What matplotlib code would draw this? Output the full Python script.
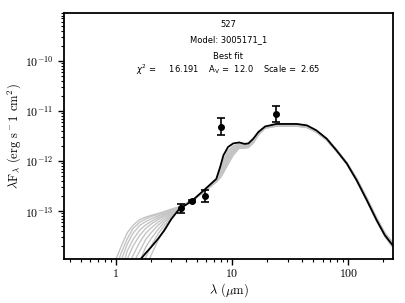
import numpy as np
import matplotlib
matplotlib.use("Agg")
import matplotlib.pyplot as plt
from matplotlib.ticker import FixedLocator, FuncFormatter, LogLocator, NullFormatter

plt.rcParams['mathtext.fontset'] = 'cm'
plt.rcParams['axes.unicode_minus'] = False

# ---- data (flux in units of 1e-13 erg s^-1 cm^-2) ----
wav = [1.0, 1.1, 1.25, 1.4, 1.6, 1.8, 2.0, 2.3, 2.6, 3.0, 3.5, 4.5, 5.8, 7.3, 7.9,
       8.4, 9.2, 10.2, 11.5, 12.8, 13.8, 15.2, 16.8, 19.2, 24, 36, 44, 53, 65, 79,
       97, 118, 144, 175, 206, 240]
nan = np.nan
best_fit = [nan, nan, nan, 0.06, 0.105, 0.145, 0.19, 0.28, 0.41, 0.70, 1.10, 1.60, 2.7, 4.4, 7.8,
            13, 19, 22.5, 23.5, 22, 22.5, 28, 38, 49, 55, 55, 51.5, 41, 28, 16.3,
            8.9, 4.1, 1.66, 0.66, 0.33, 0.21]
grey_models = [
    [0.11, 0.19, 0.37, 0.52, 0.68, 0.76, 0.82, 0.90, 0.98, 1.10, 1.22, 1.65, 2.5, 3.9, 4.6,
     5.8, 8.5, 13, 18, 18, 18.5, 23, 33, 45, 50, 50, 47, 38, 26.5, 16.0,
     8.8, 4.2, 1.70, 0.68, 0.34, 0.21],
    [0.07, 0.14, 0.28, 0.45, 0.60, 0.70, 0.78, 0.86, 0.95, 1.06, 1.20, 1.62, 2.55, 4.0, 5.2,
     7.0, 10.5, 15, 19, 19, 19.5, 24, 34, 46, 51, 51, 48, 39, 27, 16.3,
     9.0, 4.3, 1.75, 0.70, 0.35, 0.22],
    [nan, 0.10, 0.22, 0.36, 0.52, 0.62, 0.70, 0.80, 0.90, 1.02, 1.18, 1.62, 2.6, 4.1, 5.8,
     8.0, 12, 16.5, 20, 19.5, 20, 25, 35, 47, 52, 52, 49, 39.5, 27.5, 16.6,
     9.2, 4.4, 1.80, 0.72, 0.36, 0.23],
    [nan, 0.06, 0.16, 0.27, 0.42, 0.53, 0.62, 0.74, 0.85, 0.98, 1.16, 1.60, 2.65, 4.2, 6.3,
     9.0, 13.5, 18, 21, 20, 20.5, 25.5, 35.5, 47.5, 52.5, 52.5, 49.5, 40, 27.8, 16.8,
     9.1, 4.2, 1.72, 0.69, 0.34, 0.22],
    [nan, nan, 0.11, 0.20, 0.33, 0.45, 0.55, 0.68, 0.80, 0.95, 1.15, 1.60, 2.7, 4.3, 6.8,
     10, 15, 19.5, 22, 20.5, 21, 26, 36, 48, 53, 53, 50, 40.5, 28, 17.0,
     9.3, 4.5, 1.85, 0.74, 0.37, 0.24],
    [nan, nan, 0.07, 0.13, 0.24, 0.36, 0.46, 0.60, 0.74, 0.90, 1.13, 1.58, 2.6, 4.0, 5.5,
     7.5, 11, 16, 19.5, 19, 19.5, 24.5, 34.5, 46.5, 51.5, 51.5, 48.5, 39, 27, 16.0,
     8.7, 4.0, 1.62, 0.64, 0.32, 0.20],
    [nan, nan, nan, 0.09, 0.16, 0.27, 0.37, 0.52, 0.67, 0.86, 1.12, 1.58, 2.5, 3.8, 4.8,
     6.2, 9.5, 14, 18.5, 18.5, 19, 23.5, 33.5, 45.5, 49.5, 49.5, 46.5, 37.5, 26, 15.6,
     8.6, 4.0, 1.60, 0.63, 0.31, 0.19],
    [nan, nan, nan, nan, 0.10, 0.19, 0.28, 0.43, 0.60, 0.82, 1.10, 1.60, 2.6, 4.2, 6.0,
     8.5, 12.5, 17, 20.5, 20, 20.5, 25, 35, 47, 51, 51, 48, 39, 27.2, 16.5,
     9.0, 4.3, 1.78, 0.71, 0.35, 0.23],
    [nan, nan, nan, nan, 0.06, 0.12, 0.20, 0.35, 0.52, 0.78, 1.10, 1.62, 2.7, 4.4, 7.0,
     10.5, 16, 20, 22, 21, 21.5, 26.5, 36.5, 48, 52, 52, 49, 40, 27.6, 16.9,
     9.2, 4.4, 1.82, 0.73, 0.36, 0.24],
    [nan, nan, nan, nan, nan, 0.07, 0.13, 0.26, 0.44, 0.74, 1.10, 1.60, 2.55, 4.0, 5.0,
     6.5, 10, 15, 19, 18.8, 19.2, 24, 34, 46, 50, 50, 47, 38, 26.2, 15.8,
     8.7, 4.1, 1.66, 0.66, 0.33, 0.20],
]
obs_wav = [3.6, 4.5, 5.8, 8.0, 24.0]
obs_flux = [1.15, 1.62, 2.0, 48.0, 85.0]
obs_err_lo = [0.22, 0.08, 0.5, 15.0, 26.0]
obs_err_hi = [0.25, 0.08, 0.6, 25.0, 40.0]
unit = 1e-13

title_lines = ["527", "Model: 3005171_1", "Best fit"]
chi2, av, scale = 16.191, 12.0, 2.65

# ---- figure ----
fig = plt.figure(figsize=(4.06, 3.03), dpi=100)
ax = fig.add_axes([64/406, 44/303, 329/406, 246/303])

w = np.array(wav)
for g in grey_models:
    ax.plot(w, np.array(g) * unit, color='#c4c4c4', lw=1.0, zorder=1)
ax.plot(w, np.array(best_fit) * unit, color='black', lw=1.3, zorder=2)

ax.errorbar(obs_wav, np.array(obs_flux) * unit,
            yerr=[np.array(obs_err_lo) * unit, np.array(obs_err_hi) * unit],
            fmt='o', color='black', ms=4, capsize=3, elinewidth=1.2, capthick=1.2, zorder=3)

ax.set_xscale('log')
ax.set_yscale('log')
ax.set_xlim(0.357, 242)
ax.set_ylim(1.11e-14, 9.0e-10)

ax.xaxis.set_major_locator(FixedLocator([1, 10, 100]))
ax.xaxis.set_major_formatter(FuncFormatter(lambda v, p: r'$%d$' % round(v)))
ax.xaxis.set_minor_locator(LogLocator(base=10, subs=np.arange(2, 10)))
ax.xaxis.set_minor_formatter(NullFormatter())
ax.yaxis.set_major_locator(FixedLocator([1e-13, 1e-12, 1e-11, 1e-10]))
ax.yaxis.set_major_formatter(FuncFormatter(lambda v, p: r'$10^{%d}$' % round(np.log10(v))))
ax.yaxis.set_minor_locator(LogLocator(base=10, subs=np.arange(2, 10)))
ax.yaxis.set_minor_formatter(NullFormatter())
ax.tick_params(which='major', length=4, width=1.0, labelsize=8.5)
ax.tick_params(axis='x', which='major', pad=2)
ax.tick_params(which='minor', length=2, width=0.8)
for s in ax.spines.values():
    s.set_linewidth(1.3)

ax.set_xlabel(r'$\lambda$ ($\mu$m)', fontsize=9, family='cmr10', labelpad=1)
ax.set_ylabel(r'$\mathrm{\lambda F_\lambda}$ (erg s$^-$1 cm$^2$)', fontsize=9, family='cmr10',
              labelpad=1)

ys = [0.955, 0.89, 0.825]
for t, yy in zip(title_lines, ys):
    ax.text(0.5, yy, t, transform=ax.transAxes, ha='center', va='center',
            fontsize=6, family='DejaVu Sans')
ax.text(0.5, 0.768,
        r'$\chi^2$ =     %.3f    A$_\mathrm{V}$ =  %.1f    Scale =  %.2f' % (chi2, av, scale),
        transform=ax.transAxes, ha='center', va='center', fontsize=6,
        family='DejaVu Sans', math_fontfamily='dejavusans')

fig.savefig('out.png', dpi=100)
